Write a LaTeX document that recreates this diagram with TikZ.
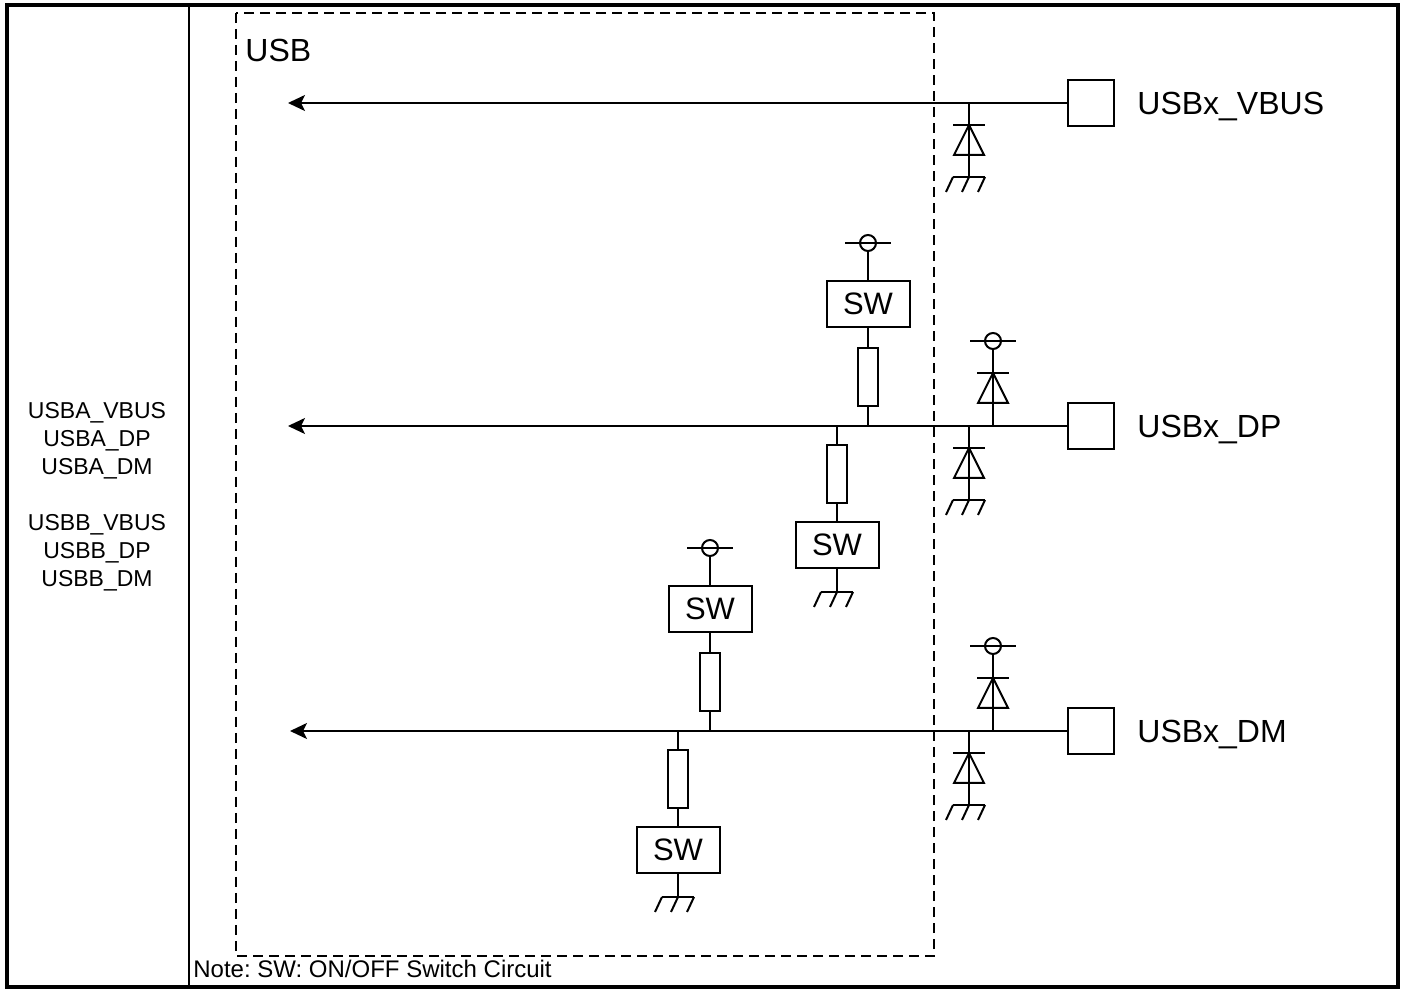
\documentclass[tikz,border=0pt]{standalone}
\usepackage{fontspec}
\setmainfont{Liberation Sans}
\usetikzlibrary{arrows.meta}
\frenchspacing

\tikzset{
  wire/.style={line width=1pt},
  sigline/.style={wire, -{Stealth[length=8.5pt, width=8pt, inset=2pt]}},
  pad/.style={draw, wire, minimum size=23pt, inner sep=0pt},
  swbox/.style={draw, wire, fill=white, minimum width=41.5pt, minimum height=23pt, inner sep=0pt, font=\fontsize{15.5}{18}\selectfont},
  resbox/.style={draw, wire, fill=white, minimum width=10pt, minimum height=29pt, inner sep=0pt},
  siglabel/.style={anchor=base west, inner sep=0pt, font=\fontsize{16}{19}\selectfont},
  diode/.pic={
    \draw[wire] (-16,0) -- (16,0);
    \draw[wire] (0,0) -- (-15,30) -- (15,30) -- cycle;
  },
  gnd/.pic={
    \coordinate (-t) at (0,0);
    \draw[wire] (-16,0) -- (16,0);
    \foreach \h in {-16,0,16} \draw[wire] (\h,0) -- ++(-7,15);
  },
  vcc/.pic={
    \coordinate (-b) at (0,8);
    \draw[wire] (-23,0) -- (23,0);
    \draw[wire] (0,0) circle[radius=4pt];
  },
}

\begin{document}
\begin{tikzpicture}[x=0.5pt, y=-0.5pt]
  \useasboundingbox (0,0) rectangle (1405,989);

  % frame
  \draw[line width=2pt] (7,5) rectangle (1398,987);
  \draw[wire] (189,5) -- (189,987);

  % USB block
  \draw[line width=0.8pt, dash pattern=on 5pt off 3pt] (236,13) rectangle (934,956);
  \node[anchor=base west, inner sep=0pt, font=\fontsize{16}{19}\selectfont] (usb) at (245,62) {USB};

  % pin names and note
  \node[align=center, font=\fontsize{11.5}{14}\selectfont] (pins) at (97,497)
    {USBA\_VBUS\\USBA\_DP\\USBA\_DM\\[14pt]USBB\_VBUS\\USBB\_DP\\USBB\_DM};
  \node[anchor=base west, inner sep=0pt, font=\fontsize{12}{14}\selectfont] (note) at (193,978)
    {Note: SW: ON/OFF Switch Circuit};

  % pads, signal lines and ESD diodes to ground
  \foreach \sig/\y/\tip in {VBUS/103/288, DP/426/288, DM/731/290} {
    \node[pad] (pad\sig) at (1091,\y) {};
    \node[siglabel] (lbl\sig) at (1137,{\y+12}) {USBx\_\sig};
    \coordinate (in\sig) at (\tip,\y);
    \draw[sigline] (pad\sig.west) -- (in\sig);
    \coordinate (jg\sig) at (969,\y);
    \pic (gnd\sig) at (969,{\y+74}) {gnd};
    \draw[wire] (jg\sig) -- (gnd\sig-t);
    \pic at (969,{\y+22}) {diode};
  }

  % ESD diodes to supply
  \foreach \sig/\y in {DP/426, DM/731} {
    \coordinate (jv\sig) at (993,\y);
    \pic (vd\sig) at (993,{\y-85}) {vcc};
    \draw[wire] (jv\sig) -- (vd\sig-b);
    \pic at (993,{\y-53}) {diode};
  }

  % pull-up and pull-down switches
  \foreach \sig/\y/\xu/\xd in {DP/426/868/837, DM/731/710/678} {
    \pic (vs\sig) at (\xu,{\y-183}) {vcc};
    \node[swbox] (swu\sig) at (\xu,{\y-122}) {SW};
    \node[resbox] (ru\sig) at (\xu,{\y-49}) {};
    \coordinate (ju\sig) at (\xu,\y);
    \draw[wire] (vs\sig-b) -- (swu\sig) -- (ru\sig) -- (ju\sig);

    \coordinate (jd\sig) at (\xd,\y);
    \node[resbox] (rd\sig) at (\xd,{\y+48}) {};
    \node[swbox] (swd\sig) at (\xd,{\y+119}) {SW};
    \pic (gs\sig) at (\xd,{\y+166}) {gnd};
    \draw[wire] (jd\sig) -- (rd\sig) -- (swd\sig) -- (gs\sig-t);
  }
\end{tikzpicture}
\end{document}
